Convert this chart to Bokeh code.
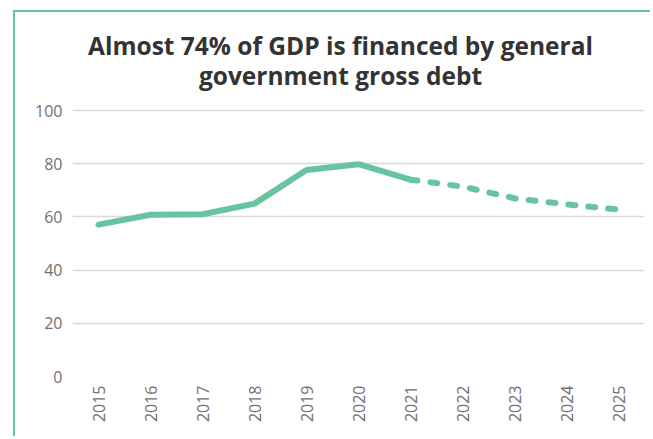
from bokeh.plotting import figure
from bokeh.models import Label, FixedTicker, Range1d
from bokeh.embed import file_html
from bokeh.resources import INLINE
import math

years = ["2015", "2016", "2017", "2018", "2019", "2020", "2021", "2022", "2023", "2024", "2025"]
actual_years = years[:7]
actual_values = [57.1, 60.8, 61.0, 65.0, 77.6, 79.8, 74.0]
forecast_years = years[6:]
forecast_values = [74.0, 71.4, 67.0, 64.7, 62.8]
y_ticks = [0, 20, 40, 60, 80, 100]
title_line1 = "Almost 74% of GDP is financed by general"
title_line2 = "government gross debt"

GREEN = "#66C49E"
TITLE_FONT = "Open Sans"
TICK_FONT = "Open Sans"

# the plot frame also holds the title area above the 100 gridline
p = figure(x_range=years, y_range=Range1d(0, 136.47), width=637, height=426,
           output_backend="svg", toolbar_location=None,
           min_border_left=57, min_border_right=8, min_border_bottom=62, min_border_top=1)
p.title = None
p.styles = {"border-left": f"2px solid {GREEN}", "border-top": f"2px solid {GREEN}",
            "margin-left": "13px", "margin-top": "10px"}

for txt, ty in ((title_line1, 124.4), (title_line2, 113.2)):
    p.add_layout(Label(text=txt, x=5.154, y=ty,
                       text_align="center", text_baseline="alphabetic",
                       text_font=TITLE_FONT, text_font_size="24.5px", text_font_style="bold",
                       text_color="#333333"))

p.line(actual_years, actual_values, line_color=GREEN, line_width=6, line_cap="round", line_join="round")
p.line(forecast_years, forecast_values, line_color=GREEN, line_width=6, line_cap="round",
       line_join="round", line_dash="7 13")

p.outline_line_color = None
p.xgrid.grid_line_color = None
p.ygrid.grid_line_color = "#d9d9d9"
p.ygrid.grid_line_width = 1.5
p.yaxis.ticker = FixedTicker(ticks=y_ticks)
for ax in (p.xaxis[0], p.yaxis[0]):
    ax.axis_line_color = None
    ax.major_tick_line_color = None
    ax.minor_tick_line_color = None
    ax.major_tick_out = 0
    ax.major_tick_in = 0
    ax.major_label_text_font = TICK_FONT
    ax.major_label_text_font_size = "16px"
    ax.major_label_text_color = "#707070"
p.yaxis.major_label_standoff = 10
p.xaxis.major_label_orientation = math.pi / 2
p.xaxis.major_label_standoff = 9

open("out.html", "w").write(file_html(p, INLINE))
